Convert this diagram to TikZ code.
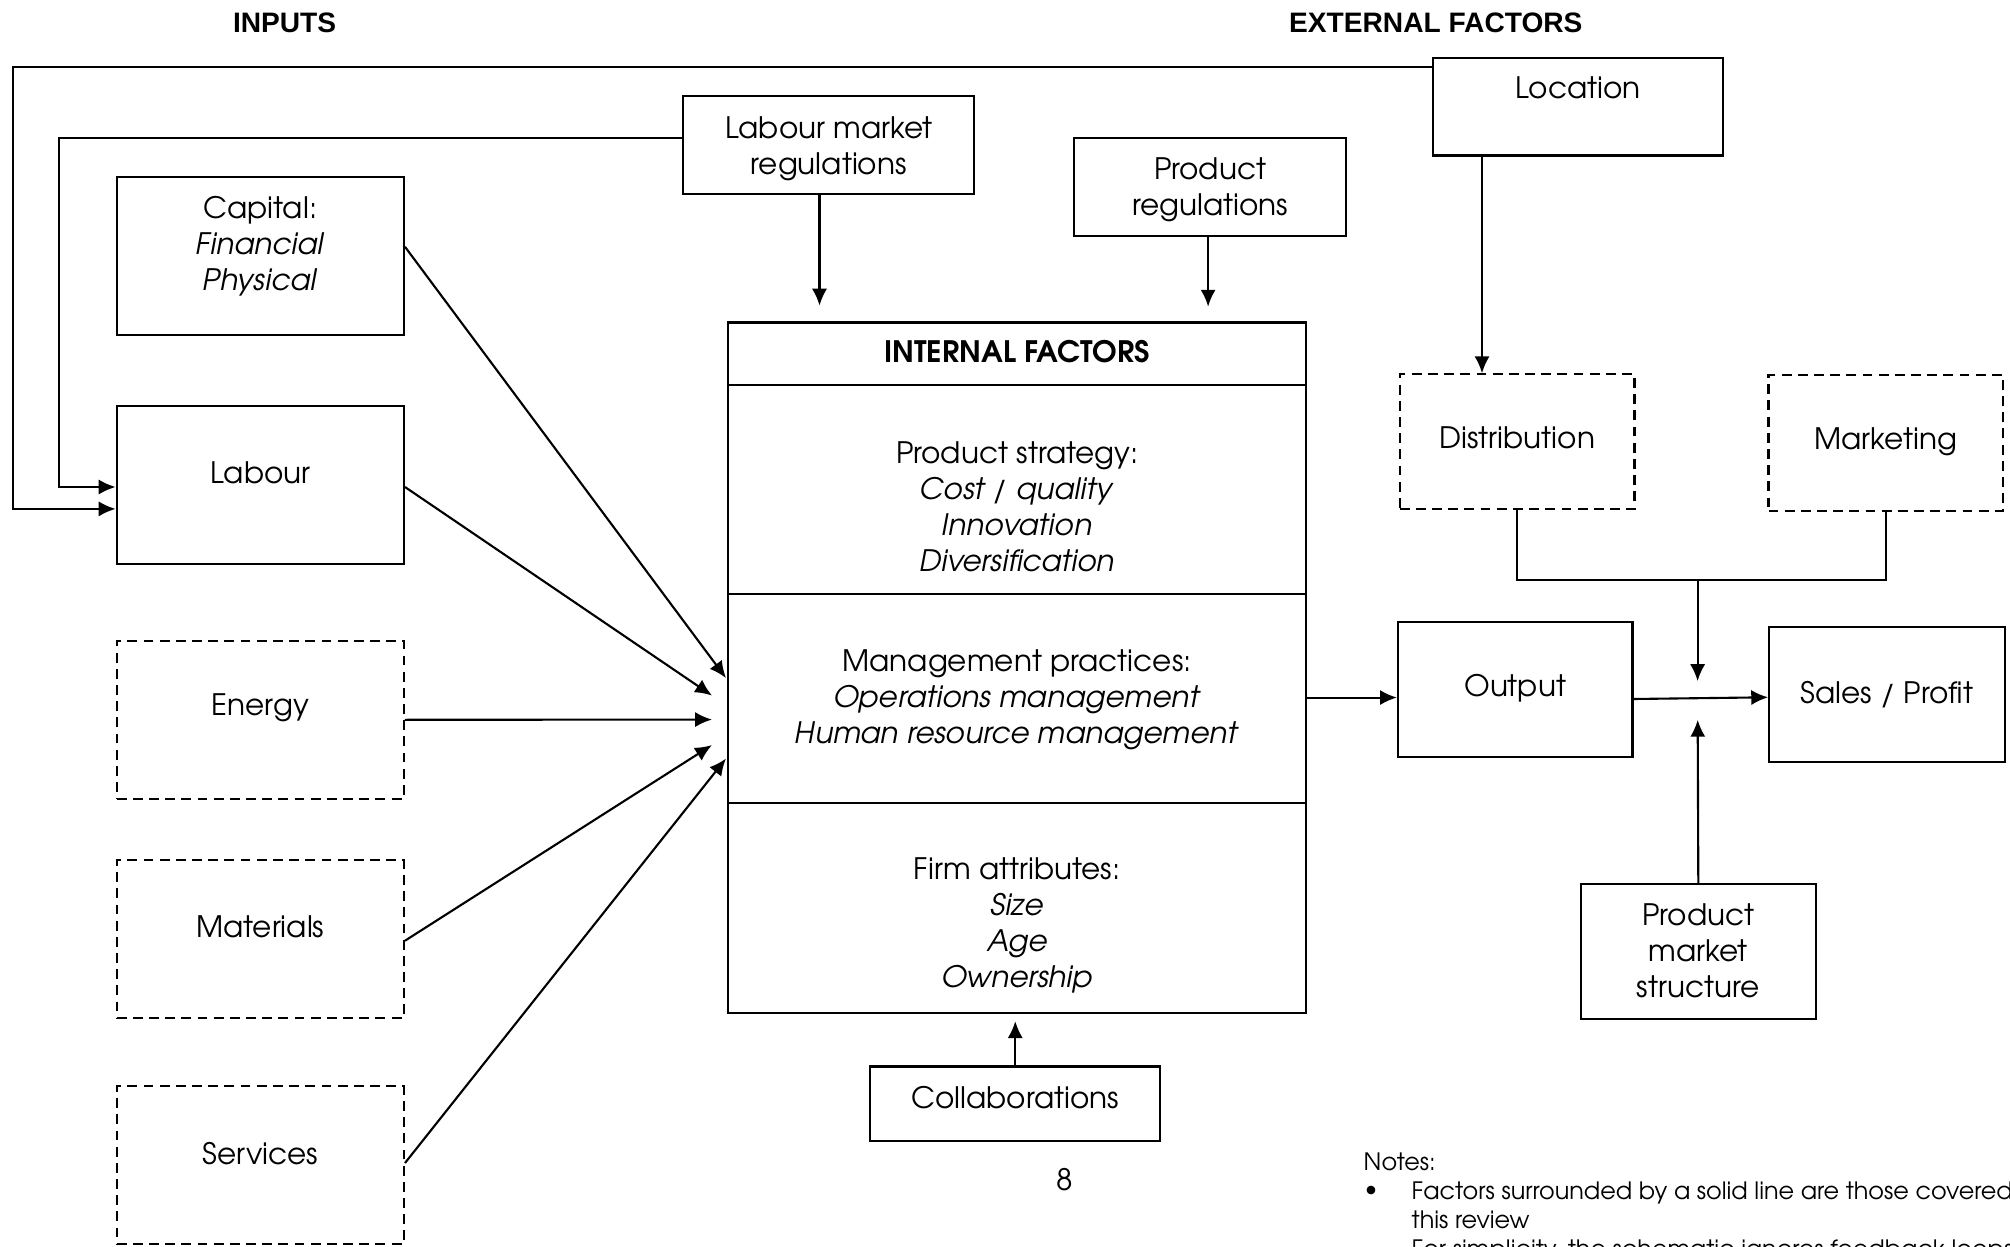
\documentclass[tikz,border=0pt]{standalone}
\usepackage{fontspec}
\setmainfont{texgyreadventor}[Extension=.otf, UprightFont=*-regular, BoldFont=*-bold, ItalicFont=*-italic, BoldItalicFont=*-bolditalic]
\newfontfamily\arialfont{Liberation Sans}
\usetikzlibrary{arrows.meta,calc}
\begin{document}
\begin{tikzpicture}[x=0.01cm, y=-0.01cm,
  box/.style={draw, line width=0.6pt, rectangle, inner sep=0pt},
  dbox/.style={box, dash pattern=on 2.8pt off 1.8pt},
  inbox/.style={minimum width=2.871cm, minimum height=1.577cm},
  lbl/.style={font=\fontsize{8.4}{10.24}\selectfont, align=center, inner sep=0pt},
  note/.style={font=\fontsize{6.8}{8.22}\selectfont, align=left, inner sep=0pt},
  ttl/.style={font=\arialfont\bfseries\fontsize{8}{9.6}\selectfont, inner sep=0pt},
  conn/.style={line width=0.6pt},
  arr/.style={conn, -{Latex[length=4.8pt,width=4.3pt]}},
]
\useasboundingbox (0,0) rectangle (2010,1246);
\clip (0,0) rectangle (2010,1246);

% titles
\node[ttl] (tin) at (284.6,23) {INPUTS};
\node[ttl] (text) at (1435.8,23) {EXTERNAL FACTORS};

% input boxes
\node[box, inbox] (capital) at (260.3,255.8) {};
\node[box, inbox] (labour) at (260.3,485.2) {};
\node[dbox, inbox] (energy) at (260.3,719.8) {};
\node[dbox, inbox] (materials) at (260.3,939.3) {};
\node[dbox, inbox] (services) at (260.3,1165.3) {};
\node[lbl] (tcapital) at (260.3,246.5) {Capital:\\\textit{Financial}\\\textit{Physical}};
\node[lbl] (tlabour) at (260.3,472.5) {Labour};
\node[lbl] (tenergy) at (260.3,708) {Energy};
\node[lbl] (tmaterials) at (260.3,927) {Materials};
\node[lbl] (tservices) at (260.3,1153.5) {Services};

% external boxes
\node[box, minimum width=2.909cm, minimum height=0.975cm] (lmr) at (828.8,144.9) {};
\node[lbl] (tlmr) at (828.8,148.5) {Labour market\\regulations};
\node[box, minimum width=2.718cm, minimum height=0.975cm] (preg) at (1210.1,187.2) {};
\node[lbl] (tpreg) at (1210.1,189.5) {Product\\regulations};
\node[box, minimum width=2.900cm, minimum height=0.978cm] (loc) at (1578,106.6) {};
\node[lbl] (tloc) at (1578,88) {Location};

% internal factors
\node[box, minimum width=5.778cm, minimum height=0.622cm] (header) at (1017.1,353.6) {};
\node[lbl, font=\bfseries\fontsize{8.4}{10.24}\selectfont] (theader) at (1017.1,352) {INTERNAL FACTORS};
\node[box, minimum width=5.778cm, minimum height=2.091cm] (ps) at (1017.1,489.25) {};
\node[lbl] (tps) at (1017.1,506.5) {Product strategy:\\\textit{Cost / quality}\\\textit{Innovation}\\\textit{Diversification}};
\node[box, minimum width=5.778cm, minimum height=2.095cm] (mp) at (1017.1,698.55) {};
\node[lbl] (tmp) at (1017.1,700) {Management practices:\\\textit{Operations management}\\\textit{Human resource management}};
\node[box, minimum width=5.778cm, minimum height=2.097cm] (fa) at (1017.1,908.15) {};
\node[lbl] (tfa) at (1017.1,925.5) {Firm attributes:\\\textit{Size}\\\textit{Age}\\\textit{Ownership}};
\node[box, minimum width=2.897cm, minimum height=0.744cm] (collab) at (1015.25,1103.7) {};
\node[lbl] (tcollab) at (1015.25,1097.3) {Collaborations};

% right side
\node[dbox, minimum width=2.346cm, minimum height=1.347cm] (dist) at (1517.1,441.7) {};
\node[lbl] (tdist) at (1517.1,438) {Distribution};
\node[dbox, minimum width=2.345cm, minimum height=1.360cm] (mkt) at (1885.8,443) {};
\node[lbl] (tmkt) at (1885.8,442) {Marketing};
\node[box, minimum width=2.344cm, minimum height=1.353cm] (output) at (1515.2,689.4) {};
\node[lbl] (toutput) at (1515.2,688.5) {Output};
\node[box, minimum width=2.353cm, minimum height=1.347cm] (sales) at (1886.9,694.7) {};
\node[lbl] (tsales) at (1886.9,695) {Sales / Profit};
\node[box, minimum width=2.354cm, minimum height=1.350cm] (pms) at (1698.3,951.5) {};
\node[lbl] (tpms) at (1698.3,951) {Product\\market\\structure};

% page number and notes
\node[lbl] (pagenum) at (1065,1180) {8};
\node[note, anchor=west] (notes) at (1363,1161.7) {Notes:};
\node[note] (bullet) at (1371,1191) {\textbullet};
\node[note, anchor=north west] (notebody) at (1411,1181) {Factors surrounded by a solid line are those covered in\\this review\\For simplicity, the schematic ignores feedback loops};

% feedback lines to Labour
\coordinate (fb1) at (12.8,508.9);
\draw[arr] ($(loc.north west)+(0,10.3)$) -| (fb1) -- (fb1 -| labour.west);
\coordinate (fb2) at (58.7,487);
\draw[arr] ($(lmr.west)+(0,-6.5)$) -| (fb2) -- (fb2 -| labour.west);

% regulations to internal factors
\coordinate (lmrS) at ($(lmr.south)+(-9.3,0)$);
\draw[arr, shorten >=4.5pt] (lmrS) -- (lmrS |- header.north);
\coordinate (pregS) at ($(preg.south)+(-2,0)$);
\draw[arr, shorten >=4.2pt] (pregS) -- (pregS |- header.north);

% location to distribution
\coordinate (locS) at ($(loc.south)+(-96,0)$);
\draw[arr] (locS) -- (locS |- dist.north);

% inputs to management practices
\draw[arr] ($(capital.east)+(0,-9)$) -- ($(mp.west)+(-1,-20.5)$);
\draw[arr] ($(labour.east)+(0,1.8)$) -- ($(mp.west)+(-15,-3)$);
\draw[arr] (energy.east) -- ($(mp.west)+(-15,21)$);
\draw[arr] ($(materials.east)+(0,1.4)$) -- ($(mp.west)+(-15,46.5)$);
\draw[arr] ($(services.east)+(0,-2.3)$) -- ($(mp.west)+(-1,60)$);

% management practices to output, output to sales
\coordinate (mpE) at ($(mp.east)+(0,-1)$);
\draw[arr] (mpE) -- (mpE -| output.west);
\draw[arr] ($(output.east)+(0,9.6)$) -- ($(sales.west)+(0,2.6)$);

% distribution / marketing bracket
\coordinate (jn) at (1697.6,580);
\coordinate (mrg) at (1697.6,698);
\draw[conn] (dist.south) |- (jn) -| (mkt.south);
\draw[arr, shorten >=4.8pt] (jn) -- (mrg);
\draw[arr, shorten >=6.2pt] (pms.north) -- (mrg);

% collaborations
\draw[arr, shorten >=2pt] (collab.north) -- (collab.north |- fa.south);
\end{tikzpicture}
\end{document}
